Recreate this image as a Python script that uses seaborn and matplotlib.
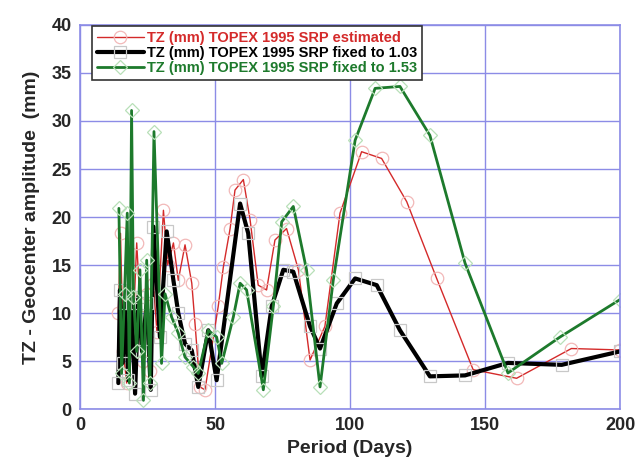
import numpy as np
import pandas as pd
import matplotlib
matplotlib.use('Agg')
import matplotlib.pyplot as plt
import seaborn as sns

# Series (period in days, amplitude in mm)
est_period = [14.2, 15.0, 16.0, 17.3, 18.5, 19.5, 21.0, 22.5, 23.5, 24.7, 26.0,
              27.2, 28.5, 30.9, 32.5, 34.6, 36.4, 38.9, 41.4, 42.6, 44.4, 46.3,
              51.2, 53.1, 55.6, 57.4, 60.5, 63.0, 66.0, 69.1, 72.2, 76.5, 80.9,
              85.2, 90.7, 96.3, 104.3, 111.7, 121.0, 132.1, 145.6, 161.7, 182.0, 200.0]
est_amp = [10.0, 18.3, 6.0, 2.7, 12.0, 7.0, 17.3, 9.6, 5.0, 12.0, 4.0,
           13.0, 8.0, 20.7, 15.0, 17.3, 13.4, 17.1, 13.1, 8.9, 2.3, 2.0,
           10.7, 14.8, 18.8, 22.8, 23.9, 19.7, 12.9, 12.4, 17.6, 18.8, 14.5,
           5.1, 8.6, 20.4, 26.8, 26.1, 21.6, 13.6, 4.1, 3.2, 6.3, 6.15]

f103_period = [14.2, 14.8, 15.8, 16.7, 17.9, 19.1, 20.4, 21.6, 23.0, 24.7, 26.2,
               27.2, 29.6, 32.1, 34.6, 36.4, 38.9, 41.4, 43.8, 47.5, 50.6, 59.3,
               62.3, 67.3, 71.0, 75.3, 79.0, 85.2, 88.9, 95.1, 101.9, 109.9, 118.5,
               129.6, 142.6, 158.5, 178.4, 200.0]
f103_amp = [2.7, 12.4, 4.8, 11.0, 3.0, 11.0, 1.6, 11.7, 6.0, 11.0, 2.0,
            19.0, 7.5, 18.5, 13.4, 10.0, 6.8, 6.1, 2.3, 8.2, 3.0, 21.4,
            18.3, 3.4, 10.7, 14.5, 14.3, 8.6, 6.3, 11.0, 13.6, 12.9, 8.2,
            3.4, 3.5, 4.8, 4.6, 6.0]

f153_period = [14.4, 15.4, 16.5, 17.5, 18.3, 19.1, 19.8, 21.0, 22.2, 23.5, 24.7,
               25.9, 27.4, 30.2, 31.5, 33.9, 36.4, 38.9, 42.0, 43.8, 47.5, 50.6,
               52.5, 56.8, 59.3, 61.7, 67.9, 71.6, 74.7, 79.0, 83.9, 88.9, 93.8,
               101.9, 109.3, 118.5, 129.6, 142.6, 158.5, 177.8, 200.0]
f153_amp = [20.9, 3.7, 12.0, 20.4, 2.7, 31.1, 11.7, 6.0, 14.5, 0.9, 15.5,
            2.7, 28.9, 4.75, 12.0, 9.6, 7.9, 5.4, 4.4, 3.7, 8.2, 7.5,
            4.75, 9.6, 13.1, 12.4, 2.0, 10.7, 19.5, 21.1, 14.5, 2.3, 13.4,
            28.0, 33.4, 33.6, 28.5, 15.2, 3.75, 7.5, 11.4]

labels = ['TZ (mm) TOPEX 1995 SRP estimated',
          'TZ (mm) TOPEX 1995 SRP fixed to 1.03',
          'TZ (mm) TOPEX 1995 SRP fixed to 1.53']

sns.set_style('white')
plt.rcParams['font.family'] = ['Liberation Sans', 'DejaVu Sans']
plt.rcParams['font.weight'] = 'bold'

fig = plt.figure(figsize=(6.35, 4.65), dpi=100)
ax = fig.add_axes([80 / 635, 1 - 409 / 465, 540 / 635, 384 / 465])

grid_col = '#8c8ce6'
ax.grid(True, color=grid_col, linewidth=1.0)
ax.set_axisbelow(True)

styles = [
    dict(color='#d42a2a', linewidth=1.0, marker='o', markersize=9,
         markerfacecolor='none', markeredgecolor='#f2b8b8', markeredgewidth=0.9),
    dict(color='black', linewidth=3.0, marker='s', markersize=8,
         markerfacecolor='none', markeredgecolor='#c8c8c8', markeredgewidth=0.9),
    dict(color='#1d7a2c', linewidth=2.0, marker='D', markersize=7,
         markerfacecolor='none', markeredgecolor='#b8e0b8', markeredgewidth=0.9),
]
series = [(est_period, est_amp), (f103_period, f103_amp), (f153_period, f153_amp)]

for (px, py), lab, st in zip(series, labels, styles):
    df = pd.DataFrame({'period': px, 'amp': py})
    sns.lineplot(data=df, x='period', y='amp', ax=ax, estimator=None,
                 sort=False, label=lab, **st)

ax.set_xlim(0, 200)
ax.set_ylim(0, 40)
ax.set_xticks([0, 50, 100, 150, 200])
ax.set_yticks(range(0, 41, 5))
ax.tick_params(axis='both', length=0, labelsize=13, pad=6)
for t in ax.get_xticklabels() + ax.get_yticklabels():
    t.set_fontweight('bold')
for s in ax.spines.values():
    s.set_color(grid_col)
    s.set_linewidth(1.2)

ax.set_xlabel('Period (Days)', fontsize=14, fontweight='bold', labelpad=4)
ax.set_ylabel('TZ - Geocenter amplitude  (mm)', fontsize=14, fontweight='bold',
              labelpad=8)

leg = ax.legend(loc='upper left', bbox_to_anchor=(0.022, 0.997), borderaxespad=0,
                fancybox=False, framealpha=1, edgecolor='#333333',
                prop={'size': 10.5, 'weight': 'bold'}, labelspacing=0.05,
                handlelength=3.2, handletextpad=0.2, borderpad=0.35)
leg.get_frame().set_linewidth(1.2)
for txt, st in zip(leg.get_texts(), styles):
    txt.set_color(st['color'])

fig.savefig('out.png', dpi=100)
